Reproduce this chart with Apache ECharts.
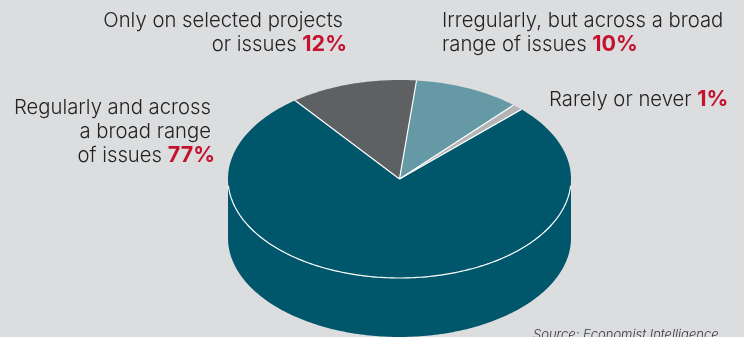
<!DOCTYPE html>
<html>
<head>
<meta charset="utf-8">
<style>html,body{margin:0;padding:0;background:#dcddde}#chart{width:744px;height:337px}</style>
<script src="https://cdn.jsdelivr.net/npm/echarts@6/dist/echarts.min.js"></script>
</head>
<body>
<div id="chart"></div>
<script>
// Survey answers, clockwise from the first slice
const categories = ['Irregularly, but across a broad range of issues', 'Rarely or never', 'Regularly and across a broad range of issues', 'Only on selected projects or issues'];
const shares = [10, 1, 77, 12];
const sliceColors = ['#6699a6', '#b3b4b5', '#00566a', '#5f6062'];
const sourceNote = 'Source: Economist Intelligence';

// Wrapped label lines for each slice; the share follows the last line
const labelLines = [
  ['Irregularly, but across a broad', 'range of issues'],
  ['Rarely or never'],
  ['Regularly and across', 'a broad range', 'of issues'],
  ['Only on selected projects', 'or issues']
];

// Disc geometry
const CX = 399.5, CY = 179, RX = 171.5, RY = 99, DEPTH = 59, FIRST_ANGLE = 5.7, RIM_TRIM = 4;

// Angles run clockwise from twelve o'clock
function point(deg, drop) {
  const a = deg * Math.PI / 180;
  return [CX + RX * Math.sin(a), CY - RY * Math.cos(a) + (drop || 0)];
}
function arc(from, to, drop) {
  const pts = [];
  const n = Math.max(1, Math.ceil(Math.abs(to - from)));
  for (let i = 0; i <= n; i++) pts.push(point(from + (to - from) * i / n, drop));
  return pts;
}
function sliceRange(i) {
  const total = shares.reduce((s, v) => s + v, 0);
  const before = shares.slice(0, i).reduce((s, v) => s + v, 0);
  return [FIRST_ANGLE + before / total * 360, FIRST_ANGLE + (before + shares[i]) / total * 360];
}
// Part of a slice that faces the viewer, between three and nine o'clock
function frontRanges(r) {
  const out = [];
  for (const k of [0, 360]) {
    const from = Math.max(r[0], 90 + k), to = Math.min(r[1], 270 + k);
    if (to > from) out.push([from, to]);
  }
  return out;
}

function renderFill(params, api) {
  const i = api.value(0);
  const r = sliceRange(i);
  const color = sliceColors[i];
  const kids = [];
  for (const f of frontRanges(r)) {
    kids.push({
      type: 'polygon',
      shape: { points: arc(f[0], f[1], 0).concat(arc(f[1], f[0], DEPTH)) },
      style: { fill: color }
    });
  }
  kids.push({
    type: 'polygon',
    shape: { points: [[CX, CY]].concat(arc(r[0], r[1], 0)) },
    style: { fill: color }
  });
  return { type: 'group', children: kids };
}

function renderEdges(params, api) {
  const i = api.value(0);
  const r = sliceRange(i);
  const line = { stroke: '#ffffff', lineWidth: 1.2, fill: null };
  const kids = [{
    type: 'polyline',
    shape: { points: [[CX, CY], point(r[0], 0)] },
    style: line
  }];
  for (const f of frontRanges(r)) {
    kids.push({ type: 'polyline', shape: { points: arc(f[0] + RIM_TRIM, f[1] - RIM_TRIM, 0) }, style: line });
  }
  return { type: 'group', children: kids };
}

const FONT = 'Inter, "Liberation Sans", sans-serif';
const INK = '#242324';
const RED = '#c4122f';
const BASE_DROP = 4;
const VALUE_LINE_DROP = 1;

const plainFont = '300 20.3px ' + FONT;
const boldFont = '700 21.5px ' + FONT;

// Text anchors per slice: edge x, alignment and the baseline of each line
const anchors = [
  { x: 442, align: 'left', base: [27, 51] },
  { x: 549, align: 'left', base: [106] },
  { x: 211, lastX: 215, align: 'right', base: [114, 138, 162] },
  { x: 343, lastX: 347, align: 'right', base: [27, 51] }
];

const texts = [];
categories.forEach((name, i) => {
  const a = anchors[i];
  labelLines[i].forEach((line, j) => {
    const last = j === labelLines[i].length - 1;
    const x = last && a.lastX ? a.lastX : a.x;
    const style = last
      ? { text: '{t|' + line + ' }{v|' + shares[i] + '%}', rich: { t: { font: plainFont, fill: INK }, v: { font: boldFont, fill: RED } } }
      : { text: line, font: plainFont, fill: INK };
    style.align = a.align;
    style.verticalAlign = 'bottom';
    texts.push({ type: 'text', x: x, y: a.base[j] + BASE_DROP + (last ? VALUE_LINE_DROP : 0), style: style });
  });
});
texts.push({ type: 'text', x: 533, y: 329, style: { text: sourceNote, align: 'left', verticalAlign: 'top', font: 'italic 300 13px ' + FONT, fill: '#3a3a3c' } });

const rows = shares.map((v, i) => [i, v, categories[i]]);
const chart = echarts.init(document.getElementById('chart'), null, { renderer: 'canvas' });
chart.setOption({
  animation: false,
  backgroundColor: '#dcddde',
  series: [
    { type: 'custom', coordinateSystem: 'none', renderItem: renderFill, data: rows, silent: true },
    { type: 'custom', coordinateSystem: 'none', renderItem: renderEdges, data: rows, silent: true, z: 3 }
  ],
  graphic: { elements: texts }
});
</script>
</body>
</html>
